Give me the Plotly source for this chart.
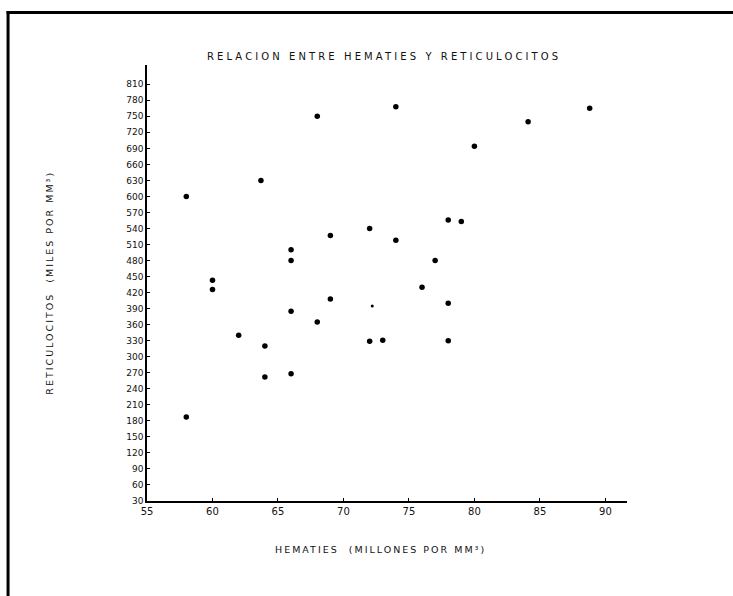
import plotly.graph_objects as go

# ---- data ----
hematies = [68, 63.7, 58, 69, 66, 66, 60, 60, 69, 66, 68, 62, 64, 64, 66, 58,
            74, 88.8, 84.1, 80, 78, 79, 72, 74, 77, 76, 78, 72, 73, 78]
reticulocitos = [750, 630, 600, 527, 500, 480, 443, 426, 408, 385, 365, 340, 320, 262, 268, 187,
                 768, 765, 740, 694, 556, 553, 540, 518, 480, 430, 400, 329, 331, 330]
faint_x = [72.2]
faint_y = [395]

x_ticks = [55, 60, 65, 70, 75, 80, 85, 90]
x_ticklabels = ["55", "60", "65", "70", "75", "80", "85", "90"]
y_ticks = list(range(30, 811, 30))

title = "RELACION ENTRE HEMATIES Y RETICULOCITOS"
x_title = "HEMATIES  (MILLONES POR MM³)"
y_title = "RETICULOCITOS  (MILES POR MM³)"

# ---- layout geometry (pixels) ----
W, H = 733, 596
L, R, T, B = 146.5, 106.3, 65, 95.3
pw, ph = W - L - R, H - T - B

def px2paper_x(px):
    return (px - L) / pw

def py2paper_y(py):
    return (H - B - py) / ph

font = "DejaVu Sans"

fig = go.Figure()
fig.add_trace(go.Scatter(x=hematies, y=reticulocitos, mode="markers",
                         marker=dict(color="black", size=5.5), showlegend=False))
fig.add_trace(go.Scatter(x=faint_x, y=faint_y, mode="markers",
                         marker=dict(color="black", size=3), showlegend=False))

fig.update_layout(
    width=W, height=H,
    margin=dict(l=L, r=R, t=T, b=B, autoexpand=False),
    paper_bgcolor="white", plot_bgcolor="white",
    font=dict(family=font, color="#111", size=9),
    xaxis=dict(range=[55, 91.65], tickvals=x_ticks, ticktext=x_ticklabels,
               showgrid=False, zeroline=False, showline=True, linecolor="black",
               linewidth=1.5, ticks="inside", ticklen=3, tickcolor="black",
               tickfont=dict(size=10)),
    yaxis=dict(range=[30, 846], tickvals=y_ticks,
               showgrid=False, zeroline=False, showline=True, linecolor="black",
               linewidth=1.5, ticks="inside", ticklen=3, tickcolor="black",
               tickfont=dict(size=9), ticklabelstandoff=0),
    annotations=[
        dict(text="<span style='letter-spacing:3.1px'>" + title + "</span>",
             x=px2paper_x(384), y=py2paper_y(57), xref="paper", yref="paper",
             showarrow=False, font=dict(size=10, family=font), xanchor="center", yanchor="middle"),
        dict(text="<span style='letter-spacing:2.0px'>" + x_title + "</span>",
             x=px2paper_x(380), y=py2paper_y(549), xref="paper", yref="paper",
             showarrow=False, font=dict(size=9.5, family=font), xanchor="center", yanchor="middle"),
        dict(text="<span style='letter-spacing:2.0px'>" + y_title + "</span>",
             x=px2paper_x(49), y=py2paper_y(283), xref="paper", yref="paper", textangle=-90,
             showarrow=False, font=dict(size=9.5, family=font), xanchor="center", yanchor="middle"),
    ],
    shapes=[
        dict(type="line", xref="paper", yref="paper",
             x0=px2paper_x(6), x1=px2paper_x(733), y0=py2paper_y(12.5), y1=py2paper_y(12.5),
             line=dict(color="black", width=3)),
        dict(type="line", xref="paper", yref="paper",
             x0=px2paper_x(7.5), x1=px2paper_x(7.5), y0=py2paper_y(11), y1=py2paper_y(596),
             line=dict(color="black", width=3)),
    ],
)

fig.write_html("out.html")
